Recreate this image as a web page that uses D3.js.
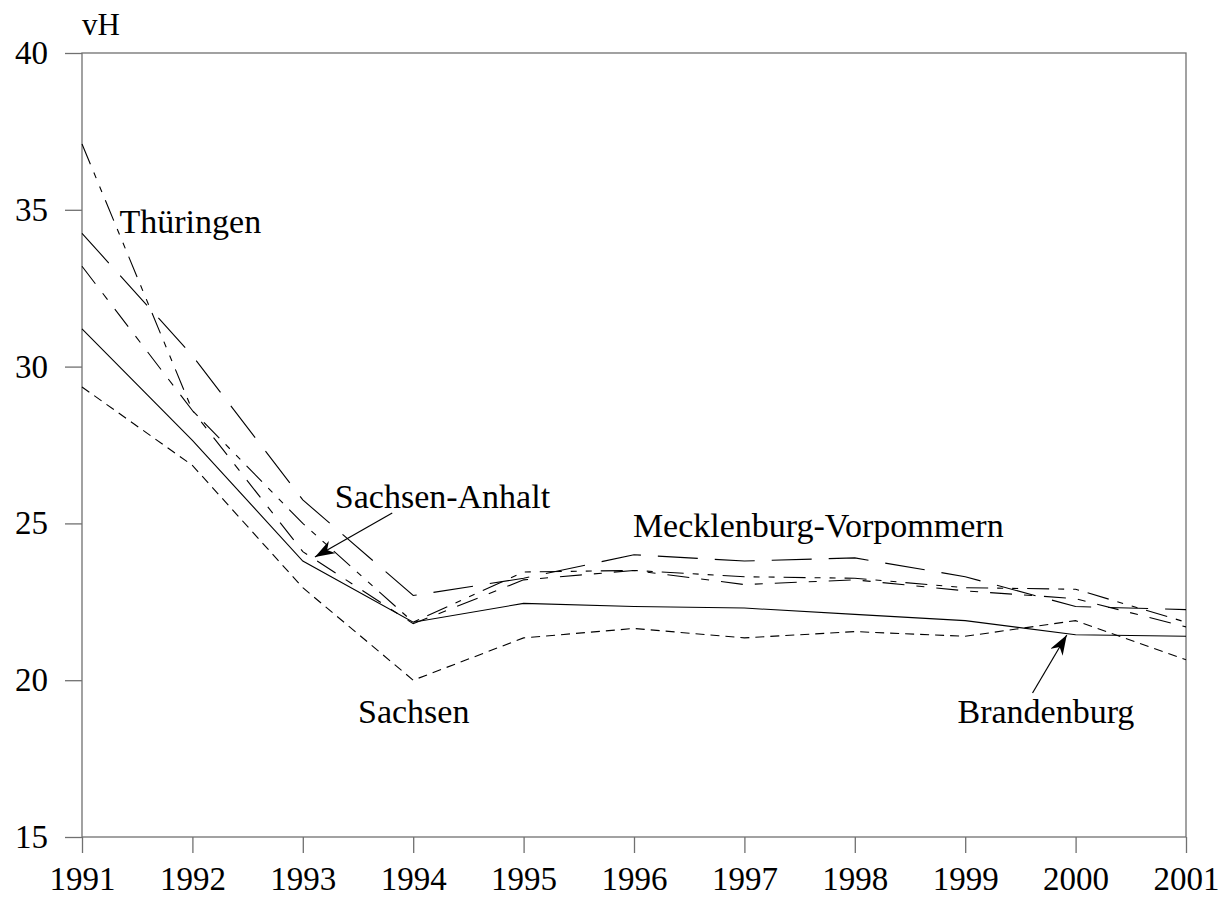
<!DOCTYPE html>
<html>
<head>
<meta charset="utf-8">
<script src="https://cdn.jsdelivr.net/npm/d3@7"></script>
<style>
  body { margin: 0; background: #fff; }
  svg { display: block; }
  text { font-family: "Liberation Serif", "Times New Roman", serif; fill: #000; }
</style>
</head>
<body>
<svg id="chart"></svg>
<script>
// Jahre und Werte (vH)
const years = [1991, 1992, 1993, 1994, 1995, 1996, 1997, 1998, 1999, 2000, 2001];
const brandenburg   = [31.2, 27.65, 23.8, 21.85, 22.45, 22.35, 22.3, 22.1, 21.9, 21.45, 21.4];
const mecklenburg   = [34.25, 30.35, 25.75, 22.7, 23.25, 24.0, 23.8, 23.9, 23.3, 22.35, 22.25];
const sachsen       = [29.35, 26.85, 22.95, 20.0, 21.35, 21.65, 21.35, 21.55, 21.4, 21.9, 20.65];
const sachsenAnhalt = [33.2, 28.6, 24.1, 21.8, 23.2, 23.5, 23.05, 23.2, 22.85, 22.6, 21.7];
const thueringen    = [37.1, 28.6, 25.0, 21.85, 23.45, 23.5, 23.3, 23.25, 22.95, 22.9, 21.85];
const yTicks = [15, 20, 25, 30, 35, 40];

const series = [
  { name: 'Brandenburg', values: brandenburg, dash: null },
  { name: 'Mecklenburg-Vorpommern', values: mecklenburg, dash: '40,17' },
  { name: 'Sachsen', values: sachsen, dash: '9,6' },
  { name: 'Sachsen-Anhalt', values: sachsenAnhalt, dash: '22,12,8,12' },
  { name: 'Thüringen', values: thueringen, dash: '22,9,6,9,6,9' }
];

// Beschriftungen in Datenkoordinaten
const labels = [
  { text: 'Thüringen', x: 1991.34, y: 34.26 },
  { text: 'Sachsen-Anhalt', x: 1993.29, y: 25.49 },
  { text: 'Mecklenburg-Vorpommern', x: 1995.99, y: 24.57 },
  { text: 'Sachsen', x: 1993.5, y: 18.64 },
  { text: 'Brandenburg', x: 1998.93, y: 18.64 }
];
const arrows = [
  { x1: 1993.81, y1: 25.33, x2: 1993.11, y2: 23.93 },
  { x1: 1999.61, y1: 19.59, x2: 1999.92, y2: 21.44 }
];

const width = 1231;
const height = 905;
const margin = { top: 53, right: 45, bottom: 68, left: 82 };

const svg = d3.select('#chart')
  .attr('width', width)
  .attr('height', height);

const x = d3.scaleLinear()
  .domain([1991, 2001])
  .range([margin.left, width - margin.right]);

const y = d3.scaleLinear()
  .domain([15, 40])
  .range([height - margin.bottom, margin.top]);

const axisColor = '#707070';

// Rahmen
svg.append('rect')
  .attr('x', x(1991))
  .attr('y', y(40))
  .attr('width', x(2001) - x(1991))
  .attr('height', y(15) - y(40))
  .attr('fill', 'none')
  .attr('stroke', axisColor)
  .attr('stroke-width', 1.3);

// y-Achse
const yAxis = svg.append('g')
  .attr('transform', `translate(${x(1991)},0)`)
  .call(d3.axisLeft(y).tickValues(yTicks).tickSize(17).tickPadding(17).tickFormat(d3.format('d')));
yAxis.select('.domain').remove();
yAxis.selectAll('line').attr('stroke', axisColor).attr('stroke-width', 1.3);
yAxis.selectAll('text').attr('font-size', 33).attr('font-family', '"Liberation Serif", serif');

// x-Achse
const xAxis = svg.append('g')
  .attr('transform', `translate(0,${y(15)})`)
  .call(d3.axisBottom(x).tickValues(years).tickSize(16).tickPadding(14).tickFormat(d3.format('d')));
xAxis.select('.domain').remove();
xAxis.selectAll('line').attr('stroke', axisColor).attr('stroke-width', 1.3);
xAxis.selectAll('text').attr('font-size', 33).attr('font-family', '"Liberation Serif", serif');

// Einheit
svg.append('text')
  .attr('x', x(1991))
  .attr('y', 35)
  .attr('font-size', 31)
  .text('vH');

// Linien
const line = d3.line()
  .x((d, i) => x(years[i]))
  .y(d => y(d));

svg.append('g')
  .selectAll('path')
  .data(series)
  .join('path')
  .attr('d', d => line(d.values))
  .attr('fill', 'none')
  .attr('stroke', '#000')
  .attr('stroke-width', 1.1)
  .attr('stroke-dasharray', d => d.dash);

// Pfeilspitze
svg.append('defs').append('marker')
  .attr('id', 'arrowhead')
  .attr('viewBox', '0 0 20 14')
  .attr('refX', 20)
  .attr('refY', 7)
  .attr('markerWidth', 20)
  .attr('markerHeight', 14)
  .attr('markerUnits', 'userSpaceOnUse')
  .attr('orient', 'auto')
  .append('path')
  .attr('d', 'M0,0 L20,7 L0,14 L6,7 Z')
  .attr('fill', '#000');

svg.append('g')
  .selectAll('line')
  .data(arrows)
  .join('line')
  .attr('x1', d => x(d.x1))
  .attr('y1', d => y(d.y1))
  .attr('x2', d => x(d.x2))
  .attr('y2', d => y(d.y2))
  .attr('stroke', '#000')
  .attr('stroke-width', 1.2)
  .attr('marker-end', 'url(#arrowhead)');

svg.append('g')
  .selectAll('text')
  .data(labels)
  .join('text')
  .attr('x', d => x(d.x))
  .attr('y', d => y(d.y))
  .attr('font-size', 34)
  .text(d => d.text);
</script>
</body>
</html>
